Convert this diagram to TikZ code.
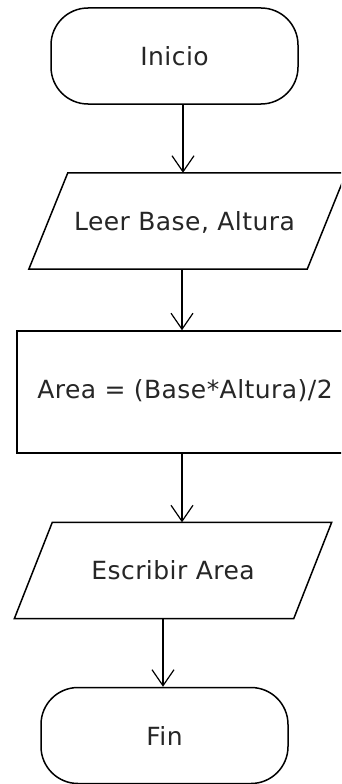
\documentclass[tikz,border=0pt]{standalone}
\usepackage{fontspec}
\setmainfont{DejaVu Sans}[LetterSpace=1.8]
\usetikzlibrary{shapes.geometric,arrows.meta}
\begin{document}
\begin{tikzpicture}[x=1pt,y=1pt,
  every node/.style={font=\fontsize{25}{29}\selectfont, text=black!85, inner sep=0pt},
  shp/.style={draw=black, line width=1.5pt},
  terminal/.style={shp, rectangle, rounded corners=37pt, minimum width=247pt, minimum height=96pt},
  io/.style={rectangle, minimum width=317pt, minimum height=96pt},
  proc/.style={shp, rectangle, minimum width=333pt, minimum height=122pt},
  arr/.style={line width=1.5pt, -{Straight Barb[length=16pt,width=22pt,line width=1.2pt]}}]
\useasboundingbox (0,0) rectangle (341,-784);
\clip (0,0) rectangle (341,-784);
\fill[white] (0,0) rectangle (341,-784);
\node[terminal] (inicio) at (174.5,-56) {Inicio};
\node[io] (leer) at (187.5,-221) {};
\node at (184.5,-222) {Leer Base, Altura};
\draw[shp] ([xshift=39pt]leer.north west) -- (leer.north east) -- ([xshift=-39pt]leer.south east) -- (leer.south west) -- cycle;
\node[proc] (area) at (183.5,-392) {};
\node at (185,-391) {Area = (Base*Altura)/2};
\node[io] (escribir) at (173,-570.5) {Escribir Area};
\draw[shp] ([xshift=38pt]escribir.north west) -- (escribir.north east) -- ([xshift=-38pt]escribir.south east) -- (escribir.south west) -- cycle;
\node[terminal] (fin) at (164.5,-735.5) {Fin};
\coordinate (xa) at (183,0);
\coordinate (xb) at (182,0);
\coordinate (xc) at (163,0);
\draw[arr] (inicio.south -| xa) -- (leer.north -| xa);
\draw[arr] (leer.south -| xb) -- (area.north -| xb);
\draw[arr] (area.south -| xb) -- (escribir.north -| xb);
\draw[arr] (escribir.south -| xc) -- (fin.north -| xc);
\end{tikzpicture}
\end{document}
